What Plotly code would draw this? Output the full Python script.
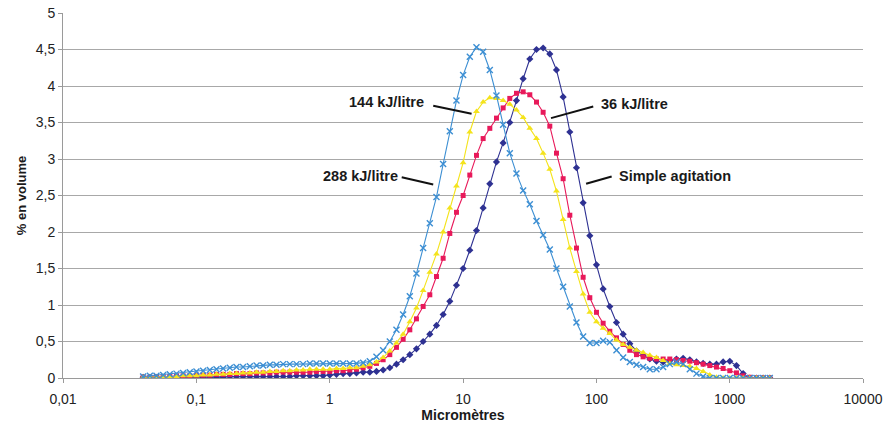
import math
import plotly.graph_objects as go

# Particle size classes (micrometres), laser-diffraction bins
size_um = [
    0.0399, 0.0448, 0.0502, 0.0564, 0.0632, 0.0710, 0.0796, 0.0893, 0.1002, 0.1125,
    0.1262, 0.1416, 0.1589, 0.1783,
    0.200, 0.224, 0.252, 0.283, 0.317, 0.356, 0.399, 0.448, 0.502, 0.564,
    0.632, 0.710, 0.796, 0.893, 1.002, 1.125, 1.262, 1.416, 1.589, 1.783,
    2.000, 2.244, 2.518, 2.825, 3.170, 3.557, 3.991, 4.477, 5.024, 5.637,
    6.325, 7.096, 7.962, 8.934, 10.024, 11.247, 12.619, 14.159, 15.887, 17.825,
    20.00, 22.44, 25.18, 28.25, 31.70, 35.57, 39.91, 44.77, 50.24, 56.37,
    63.25, 70.96, 79.62, 89.34, 100.24, 112.47, 126.19, 141.59, 158.87, 178.25,
    200.0, 224.4, 251.8, 282.5, 317.0, 355.7, 399.1, 447.7, 502.4, 563.7,
    632.5, 709.6, 796.2, 893.4, 1002.4, 1124.7, 1261.9, 1415.9, 1588.7, 1782.5,
    2000.0,
]

simple_agitation = [
    0.01, 0.01, 0.01, 0.01, 0.01, 0.01, 0.01, 0.01, 0.01, 0.01, 0.01, 0.01, 0.01, 0.02,
    0.02, 0.02, 0.02, 0.02, 0.02, 0.02, 0.02, 0.02, 0.02, 0.03, 0.03, 0.03, 0.03, 0.03, 0.04, 0.05, 0.06, 0.06, 0.07, 0.08,
    0.08, 0.09, 0.11, 0.14, 0.19, 0.25, 0.32, 0.40, 0.50, 0.60, 0.72, 0.87, 1.05, 1.27, 1.50, 1.75, 2.02, 2.33, 2.66, 2.96,
    3.22, 3.50, 3.80, 4.10, 4.37, 4.50, 4.52, 4.44, 4.22, 3.85, 3.37, 2.88, 2.40, 1.95, 1.55, 1.22, 0.98, 0.76, 0.60, 0.47,
    0.37, 0.31, 0.26, 0.23, 0.22, 0.24, 0.26, 0.27, 0.25, 0.22, 0.20, 0.19, 0.19, 0.22, 0.23, 0.17, 0.06, 0.0, 0.0, 0.0,
    0.0,
]

kj_36 = [
    0.01, 0.01, 0.02, 0.02, 0.02, 0.03, 0.03, 0.03, 0.04, 0.04, 0.04, 0.05, 0.05, 0.05,
    0.06, 0.06, 0.06, 0.07, 0.07, 0.07, 0.08, 0.08, 0.08, 0.08, 0.08, 0.08, 0.09, 0.09, 0.09, 0.10, 0.10, 0.11, 0.12, 0.14,
    0.16, 0.20, 0.25, 0.32, 0.42, 0.53, 0.66, 0.81, 0.98, 1.14, 1.39, 1.64, 1.98, 2.27, 2.50, 2.78, 3.05, 3.28, 3.42, 3.56,
    3.70, 3.83, 3.90, 3.92, 3.88, 3.78, 3.64, 3.45, 3.08, 2.73, 2.23, 1.78, 1.38, 1.10, 0.90, 0.75, 0.64, 0.55, 0.46, 0.38,
    0.32, 0.29, 0.27, 0.26, 0.26, 0.26, 0.25, 0.24, 0.23, 0.21, 0.19, 0.17, 0.15, 0.13, 0.10, 0.07, 0.03, 0.01, 0.0, 0.0,
    0.0,
]

kj_144 = [
    0.01, 0.01, 0.01, 0.02, 0.02, 0.02, 0.03, 0.03, 0.03, 0.04, 0.04, 0.05, 0.05, 0.06,
    0.06, 0.07, 0.07, 0.08, 0.08, 0.09, 0.09, 0.10, 0.10, 0.11, 0.11, 0.12, 0.12, 0.12, 0.12, 0.13, 0.13, 0.14, 0.14, 0.16,
    0.18, 0.22, 0.28, 0.37, 0.48, 0.60, 0.77, 0.96, 1.20, 1.45, 1.70, 2.00, 2.33, 2.63, 2.95, 3.37, 3.65, 3.78, 3.84, 3.83,
    3.80, 3.75, 3.67, 3.57, 3.42, 3.28, 3.08, 2.86, 2.56, 2.17, 1.78, 1.46, 1.15, 0.90, 0.77, 0.68, 0.61, 0.52, 0.46, 0.42,
    0.38, 0.35, 0.31, 0.28, 0.24, 0.20, 0.18, 0.17, 0.16, 0.13, 0.09, 0.04, 0.01, 0.0, 0.0, 0.0, 0.0, 0.0, 0.0, 0.0,
    0.0,
]

kj_288 = [
    0.02, 0.03, 0.03, 0.04, 0.05, 0.06, 0.07, 0.08, 0.09, 0.10, 0.11, 0.12, 0.13, 0.14,
    0.15, 0.15, 0.16, 0.17, 0.17, 0.18, 0.18, 0.19, 0.19, 0.19, 0.19, 0.20, 0.20, 0.20, 0.20, 0.20, 0.20, 0.20, 0.20, 0.21,
    0.23, 0.29, 0.38, 0.50, 0.66, 0.87, 1.12, 1.43, 1.78, 2.12, 2.48, 2.93, 3.38, 3.80, 4.15, 4.40, 4.53, 4.47, 4.22, 3.87,
    3.47, 3.08, 2.80, 2.57, 2.38, 2.15, 1.96, 1.76, 1.50, 1.25, 0.98, 0.76, 0.57, 0.48, 0.48, 0.51, 0.49, 0.38, 0.28, 0.22,
    0.18, 0.15, 0.12, 0.12, 0.15, 0.19, 0.22, 0.19, 0.12, 0.06, 0.02, 0.0, 0.0, 0.0, 0.0, 0.0, 0.0, 0.0, 0.0, 0.0,
    0.0,
]

x_tick_vals = [0.01, 0.1, 1, 10, 100, 1000, 10000]
x_tick_text = ["0,01", "0,1", "1", "10", "100", "1000", "10000"]
y_tick_vals = [0, 0.5, 1, 1.5, 2, 2.5, 3, 3.5, 4, 4.5, 5]
y_tick_text = ["0", "0,5", "1", "1,5", "2", "2,5", "3", "3,5", "4", "4,5", "5"]

# name, values, colour, marker symbol, marker size
series = [
    ("Simple agitation", simple_agitation, "#2e3192", "diamond", 5.5),
    ("36 kJ/litre", kj_36, "#e8195a", "square", 5),
    ("144 kJ/litre", kj_144, "#f4e31b", "triangle-up", 6),
    ("288 kJ/litre", kj_288, "#3d8fd3", "x-thin", 6),
]

# curve labels: text, label position, leader line start and end (data units)
labels = [
    ("144 kJ/litre", (2.65, 3.78), (5.98, 3.73), (11.6, 3.62)),
    ("288 kJ/litre", (1.70, 2.77), (3.47, 2.75), (5.98, 2.65)),
    ("36 kJ/litre", (192.0, 3.76), (45.7, 3.56), (94.8, 3.72)),
    ("Simple agitation", (389.0, 2.77), (83.8, 2.66), (130.3, 2.76)),
]

FONT = "Arial, 'Liberation Sans', sans-serif"

fig = go.Figure()
for name, vals, color, symbol, msize in series:
    marker = dict(symbol=symbol, size=msize, color=color)
    if symbol == "x-thin":
        marker["line"] = dict(color=color, width=1.4)
    else:
        marker["line"] = dict(width=0)
    fig.add_trace(go.Scatter(
        x=size_um, y=vals, name=name, mode="lines+markers",
        line=dict(color=color, width=1.1), marker=marker,
    ))

for text, (tx, ty), (x0, y0), (x1, y1) in labels:
    fig.add_trace(go.Scatter(
        x=[x0, x1], y=[y0, y1], mode="lines",
        line=dict(color="#111111", width=2), hoverinfo="skip",
    ))
    fig.add_annotation(
        x=math.log10(tx), y=ty, xref="x", yref="y", text="<b>%s</b>" % text,
        showarrow=False, xanchor="center", yanchor="middle",
        font=dict(family=FONT, size=14.5, color="#1a1a1a"),
    )

fig.update_layout(
    width=890, height=424,
    margin=dict(l=63, r=27, t=13, b=46),
    paper_bgcolor="white", plot_bgcolor="white",
    showlegend=False,
    font=dict(family=FONT, size=14, color="#222222"),
)
fig.update_xaxes(
    type="log", range=[-2, 4], automargin=False,
    tickvals=x_tick_vals, ticktext=x_tick_text,
    showgrid=False, zeroline=False,
    showline=True, linecolor="#9a9a9a", linewidth=1,
    ticks="outside", ticklen=4, tickcolor="#9a9a9a",
    ticklabelstandoff=4,
    title=dict(text="<b>Micromètres</b>", font=dict(size=14, family=FONT, color="#1a1a1a"), standoff=2),
)
fig.update_yaxes(
    range=[0, 5], automargin=False,
    tickvals=y_tick_vals, ticktext=y_tick_text,
    showgrid=True, gridcolor="#a8a8a8", gridwidth=1,
    zeroline=False,
    showline=True, linecolor="#9a9a9a", linewidth=1,
    ticks="outside", ticklen=4, tickcolor="#9a9a9a",
    title=dict(text="<b>% en volume</b>", font=dict(size=13, family=FONT, color="#1a1a1a"), standoff=6),
)

fig.write_html("out.html")
